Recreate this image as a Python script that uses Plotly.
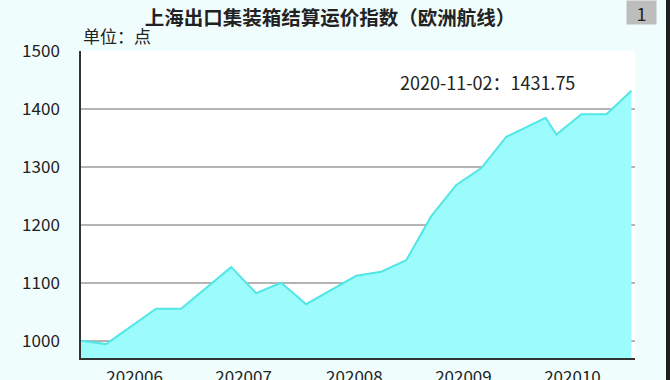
import plotly.graph_objects as go
import pandas as pd

# ---- data ----
dates = ["2020-06-01", "2020-06-08", "2020-06-22", "2020-06-29", "2020-07-13",
         "2020-07-20", "2020-07-27", "2020-08-03", "2020-08-17", "2020-08-24",
         "2020-08-31", "2020-09-07", "2020-09-14", "2020-09-21", "2020-09-28",
         "2020-10-09", "2020-10-12", "2020-10-19", "2020-10-26", "2020-11-02"]
values = [1000.00, 994, 1055, 1055, 1127,
          1082, 1100, 1063, 1112, 1119,
          1139, 1215, 1269, 1298, 1352,
          1385, 1356, 1391, 1391, 1431.75]
month_labels = ["202006", "202007", "202008", "202009", "202010"]
y_ticks = [1000, 1100, 1200, 1300, 1400, 1500]
title_text = "上海出口集装箱结算运价指数（欧洲航线）"
unit_text = "单位：点"
page_no = "1"

FONT = "Noto Sans CJK SC"
BG = "#f0fdfd"

# month label positions: middle of each month
tick_pos = []
for lab in month_labels:
    start = pd.Timestamp(lab[:4] + "-" + lab[4:] + "-01")
    end = start + pd.offsets.MonthBegin(1)
    tick_pos.append(start + (end - start) / 2)

fig = go.Figure()
fig.add_trace(go.Scatter(
    x=dates, y=values, mode="lines",
    line=dict(color="#52e6e6", width=2),
    fill="tozeroy", fillcolor="#9cfcfc",
    hoverinfo="x+y", showlegend=False,
))

last_label = f"{dates[-1]}：{values[-1]:.2f}"

fig.update_layout(
    width=670, height=380,
    margin=dict(l=81, r=35, t=51, b=22),
    paper_bgcolor=BG, plot_bgcolor="white",
    font=dict(family=FONT, size=17, color="#222"),
    title=dict(text="<b>" + title_text + "</b>", x=330 / 670, xref="container",
               xanchor="center", y=1 - 18 / 380, yanchor="middle",
               yref="container", font=dict(size=19.5, color="#222")),
    xaxis=dict(range=["2020-06-01", "2020-11-03"], showgrid=False,
               tickvals=tick_pos, ticktext=month_labels,
               ticks="outside", ticklen=3, tickcolor="rgba(0,0,0,0)",
               showline=True, linecolor="#333", linewidth=1.5,
               zeroline=False, tickfont=dict(size=17), automargin=False),
    yaxis=dict(range=[970, 1500.3], tickvals=y_ticks,
               showgrid=True, gridcolor="#b4b4b4", gridwidth=1.5,
               ticks="outside", ticklen=16, tickcolor="rgba(0,0,0,0)",
               showline=True, linecolor="#333", linewidth=1.5,
               zeroline=False, tickfont=dict(size=17), automargin=False),
    annotations=[
        dict(text=unit_text, xref="paper", yref="paper", x=0, y=1.0,
             xanchor="left", yanchor="bottom", yshift=1, showarrow=False,
             font=dict(size=17, color="#222")),
        dict(text=last_label, xref="paper", yref="paper",
             x=(398 - 81) / 554, y=(358 - 81.7) / 307,
             xanchor="left", yanchor="middle", showarrow=False,
             font=dict(size=18, color="#222")),
        dict(text=page_no, xref="paper", yref="paper",
             x=(641.5 - 81) / 554, y=(358 - 12.5) / 307,
             xanchor="center", yanchor="middle", showarrow=False,
             bgcolor="#bdbdbd", width=27, height=21,
             font=dict(size=18, color="#222")),
    ],
    shapes=[
        dict(type="line", xref="paper", yref="paper",
             x0=(668 - 81) / 554, x1=(668 - 81) / 554,
             y0=-0.2, y1=1.3,
             line=dict(color="#1e1e1e", width=4), layer="above"),
    ],
)

fig.write_html(
    "out.html",
    config={"displayModeBar": False},
    post_script="document.body.style.margin='0';document.body.style.overflow='hidden';",
)
